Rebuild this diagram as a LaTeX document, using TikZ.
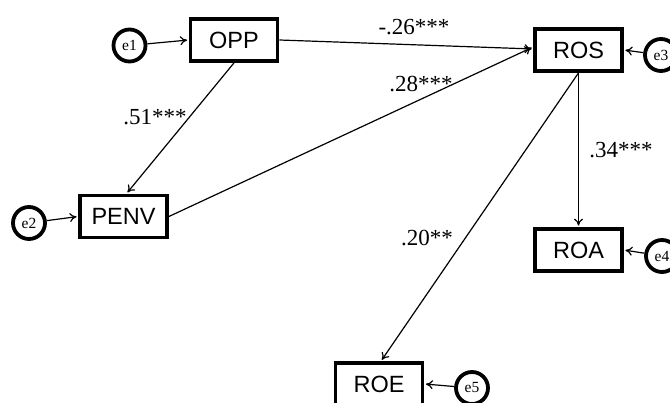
\documentclass[tikz,border=0pt]{standalone}
\usepackage{fontspec}
\setmainfont{Liberation Serif}
\newfontfamily\boxfont{Liberation Sans}
\usetikzlibrary{arrows.meta}
\begin{document}
\begin{tikzpicture}[x=1pt,y=-1pt,
  var/.style={draw, line width=3.8pt, minimum width=87pt, minimum height=42pt, inner sep=0pt, fill=white,
     font=\boxfont\fontsize{23.5}{24}\selectfont},
  err/.style={draw, circle, line width=3.8pt, minimum size=32pt, inner sep=0pt, fill=white,
     font=\fontsize{15.5}{16}\selectfont},
  path/.style={line width=1.2pt, -{To[length=7pt,width=9pt]}, shorten >=1.5pt},
  coef/.style={font=\fontsize{23}{23}\selectfont, inner sep=0pt}]
\useasboundingbox (0,0) rectangle (670,403);
\node[var] (OPP) at (234,40) {OPP};
\node[var] (ROS) at (578.5,50) {ROS};
\node[var] (PENV) at (123.5,216.5) {PENV};
\node[var] (ROA) at (578.5,250) {ROA};
\node[var] (ROE) at (379,384) {ROE};
\node[err] (e1) at (129.5,45.5) {e1};
\node[err] (e2) at (29,223) {e2};
\node[err] (e3) at (661,55) {e3};
\node[err] (e4) at (662,256) {e4};
\node[err] (e5) at (472,388) {e5};
\draw[path] (e1) -- (OPP.west);
\draw[path] (e2) -- (PENV.west);
\draw[path] (e3) -- (ROS.east);
\draw[path] (e4) -- (ROA.east);
\draw[path] (e5) -- (ROE.east);
\draw[path] (OPP.east) -- ([yshift=1pt]ROS.west);
\draw[path] (PENV.east) -- ([yshift=3pt]ROS.west);
\draw[path] (OPP.south) -- ([xshift=3pt]PENV.north);
\draw[path] (ROS.south) -- (ROA.north);
\draw[path] (ROS.south) -- ([xshift=2pt]ROE.north);
\node[coef] (c1) at (414,27) {-.26***};
\node[coef] (c2) at (421,84) {.28***};
\node[coef] (c3) at (155,117) {.51***};
\node[coef] (c4) at (621,150) {.34***};
\node[coef] (c5) at (427,238) {.20**};
\end{tikzpicture}
\end{document}
